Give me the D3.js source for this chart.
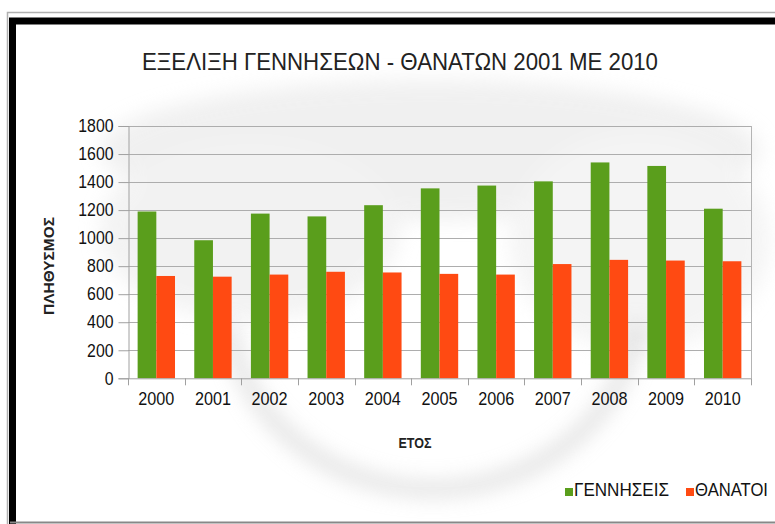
<!DOCTYPE html>
<html>
<head>
<meta charset="utf-8">
<script src="https://cdn.jsdelivr.net/npm/d3@7"></script>
<style>
  html, body { margin: 0; padding: 0; background: #fff; }
  svg { display: block; font-family: "Liberation Sans", Arial, sans-serif; }
</style>
</head>
<body>
<svg id="chart" width="775" height="524"></svg>
<script>
// ---- data ----
const years = ["2000","2001","2002","2003","2004","2005","2006","2007","2008","2009","2010"];
const births = [1190, 985, 1175, 1155, 1235, 1355, 1375, 1405, 1540, 1515, 1210];
const deaths = [730, 725, 740, 760, 755, 745, 740, 815, 845, 840, 835];
const seriesNames = ["ΓΕΝΝΗΣΕΙΣ", "ΘΑΝΑΤΟΙ"];
const yTicks = [0, 200, 400, 600, 800, 1000, 1200, 1400, 1600, 1800];
const titleText = "ΕΞΕΛΙΞΗ ΓΕΝΝΗΣΕΩΝ - ΘΑΝΑΤΩΝ 2001 ΜΕ 2010";
const yTitle = "ΠΛΗΘΥΣΜΟΣ";
const xTitle = "ΕΤΟΣ";

const colors = ["#5A9E1C", "#FF4A12"];

const svg = d3.select("#chart");
const W = 775, H = 524;
const m = { left: 128, right: 24, top: 126, bottom: 146 };
const x0 = m.left, x1 = W - m.right, yTop = m.top, yBot = H - m.bottom + 0.3;

// ---- frame ----
svg.append("rect").attr("x", 0).attr("y", 0).attr("width", W).attr("height", H).attr("fill", "#fff");
const defs = svg.append("defs");
defs.append("filter").attr("id", "blur").attr("x", "-20%").attr("y", "-20%").attr("width", "140%").attr("height", "140%")
  .append("feGaussianBlur").attr("stdDeviation", 10);

// faint watermark-ish background
const wm = svg.append("g").attr("filter", "url(#blur)").attr("opacity", 0.55);
wm.append("ellipse").attr("cx", 430).attr("cy", 150).attr("rx", 330).attr("ry", 70).attr("fill", "#e4e4e4");
wm.append("ellipse").attr("cx", 250).attr("cy", 230).attr("rx", 150).attr("ry", 90).attr("fill", "#e9e9e9");
wm.append("ellipse").attr("cx", 640).attr("cy", 240).attr("rx", 130).attr("ry", 110).attr("fill", "#ececec");
svg.append("path").attr("d", "M230,330 A205,185 0 0 0 636,330")
  .attr("fill", "none").attr("stroke", "#d0d0d0").attr("stroke-width", 16).attr("stroke-linecap", "round")
  .attr("opacity", 0.6).attr("filter", "url(#blur)");

// outer gray line and black thick border
svg.append("path").attr("d", `M7.5,${H} V12.5 H${W}`).attr("fill", "none").attr("stroke", "#b0b0b0").attr("stroke-width", 1.5);
svg.append("path").attr("d", `M12.5,${H} V21 H${W}`).attr("fill", "none").attr("stroke", "#000").attr("stroke-width", 7);
svg.append("line").attr("x1", 10).attr("x2", W).attr("y1", 522.5).attr("y2", 522.5).attr("stroke", "#888").attr("stroke-width", 2);

// ---- scales ----
const x = d3.scaleBand().domain(years).range([x0, x1]).paddingInner(0.34).paddingOuter(0.17);
const xs = d3.scaleBand().domain(seriesNames).range([0, x.bandwidth()]);
const y = d3.scaleLinear().domain([0, 1800]).range([yBot, yTop]);

// gridlines
svg.append("g").selectAll("line").data(yTicks.filter(d => d > 0)).join("line")
  .attr("x1", x0).attr("x2", x1)
  .attr("y1", d => Math.round(y(d)) + 0.5).attr("y2", d => Math.round(y(d)) + 0.5)
  .attr("stroke", "#adadad").attr("stroke-width", 1);
// right border
svg.append("line").attr("x1", x1 + 0.5).attr("x2", x1 + 0.5).attr("y1", yTop).attr("y2", yBot)
  .attr("stroke", "#b4b4b4");

// bars
const rows = years.map((yr, i) => ({ year: yr, vals: [births[i], deaths[i]] }));
const g = svg.append("g").selectAll("g").data(rows).join("g")
  .attr("transform", d => `translate(${x(d.year)},0)`);
g.selectAll("rect").data(d => d.vals.map((v, k) => ({ v, k }))).join("rect")
  .attr("x", d => xs(seriesNames[d.k]))
  .attr("width", xs.bandwidth())
  .attr("y", d => y(d.v))
  .attr("height", d => y(0) - y(d.v))
  .attr("fill", d => colors[d.k]);

// y axis
const yAxis = svg.append("g").attr("transform", `translate(${x0 + 0.5},0)`)
  .call(d3.axisLeft(y).tickValues(yTicks).tickSize(10).tickPadding(5).tickFormat(d3.format("d")));
yAxis.select(".domain").attr("stroke", "#a0a0a0");
yAxis.selectAll(".tick line").attr("stroke", "#a0a0a0");
yAxis.selectAll("text").attr("font-size", 18).attr("fill", "#111")
  .attr("font-family", "'Liberation Sans', Arial, sans-serif")
  .attr("textLength", d => String(d).length * 8.8).attr("lengthAdjust", "spacingAndGlyphs");

// x axis
const xAxis = svg.append("g").attr("transform", `translate(0,${yBot})`)
  .call(d3.axisBottom(x).tickSize(0).tickPadding(13));
xAxis.select(".domain").attr("stroke", "#a0a0a0");
xAxis.selectAll("text").attr("font-size", 19).attr("fill", "#111")
  .attr("font-family", "'Liberation Sans', Arial, sans-serif")
  .attr("textLength", 36).attr("lengthAdjust", "spacingAndGlyphs");
// category boundary ticks
const bounds = years.map(yr => x(yr) - x.step() * x.paddingInner() / 2).concat([x1]);
svg.append("g").selectAll("line").data(bounds).join("line")
  .attr("x1", d => Math.round(d) + 0.5).attr("x2", d => Math.round(d) + 0.5)
  .attr("y1", yBot).attr("y2", yBot + 7)
  .attr("stroke", "#a0a0a0");

// title
svg.append("text").attr("x", 142).attr("y", 70).attr("font-size", 24).attr("fill", "#222")
  .attr("textLength", 516).attr("lengthAdjust", "spacingAndGlyphs").text(titleText);

// axis titles
svg.append("text").attr("transform", "translate(54,266) rotate(-90)").attr("text-anchor", "middle")
  .attr("font-size", 15).attr("font-weight", "bold").attr("fill", "#222")
  .attr("textLength", 98).attr("lengthAdjust", "spacingAndGlyphs").text(yTitle);
svg.append("text").attr("x", 415).attr("y", 448).attr("text-anchor", "middle")
  .attr("font-size", 14).attr("font-weight", "bold").attr("fill", "#222")
  .attr("textLength", 33).attr("lengthAdjust", "spacingAndGlyphs").text(xTitle);

// legend
const legX = [565, 686], legTextX = [574, 695], legLen = [95, 73];
const leg = svg.append("g").selectAll("g").data(seriesNames).join("g");
leg.append("rect").attr("x", (d, i) => legX[i]).attr("y", 488).attr("width", 8).attr("height", 8)
  .attr("fill", (d, i) => colors[i]);
leg.append("text").attr("x", (d, i) => legTextX[i]).attr("y", 495.5).attr("font-size", 18).attr("fill", "#111")
  .attr("textLength", (d, i) => legLen[i]).attr("lengthAdjust", "spacingAndGlyphs").text(d => d);
</script>
</body>
</html>
